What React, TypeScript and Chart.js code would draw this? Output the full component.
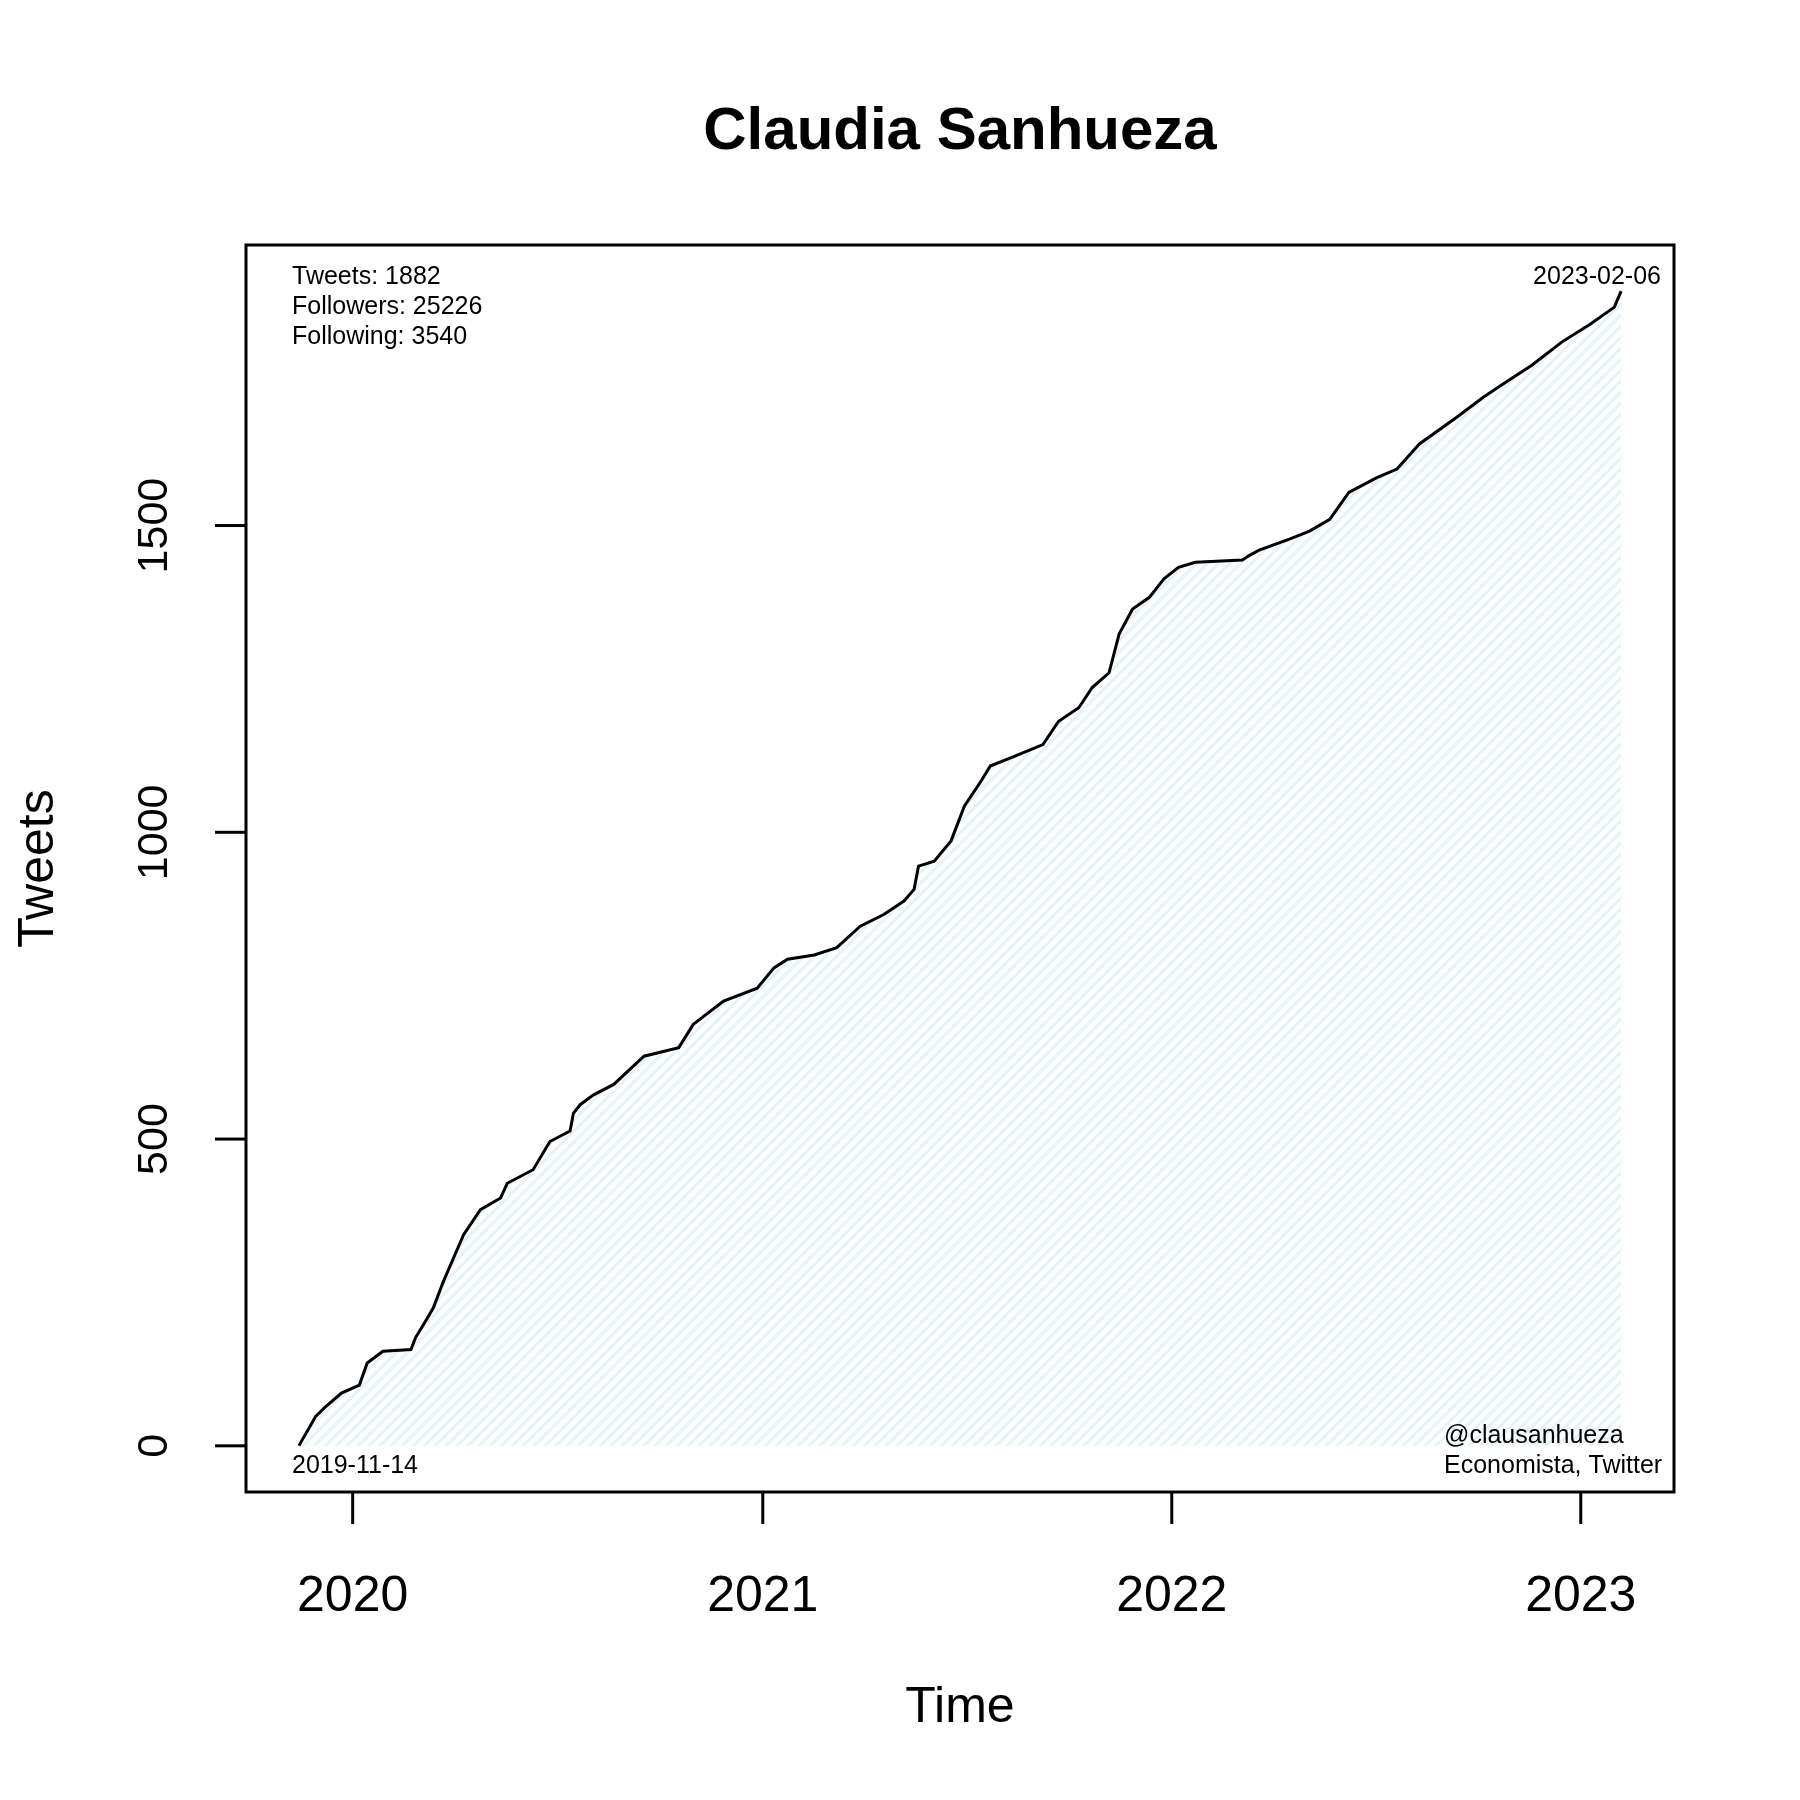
import React, { useEffect, useRef } from "react";
import { Chart, registerables } from "chart.js";

Chart.register(...registerables);

const TITLE = "Claudia Sanhueza";
const X_TITLE = "Time";
const Y_TITLE = "Tweets";

const dates = [
  "2019-11-14", "2019-11-29", "2019-12-08", "2019-12-22", "2020-01-07", "2020-01-14",
  "2020-01-28", "2020-02-22", "2020-02-26", "2020-03-04", "2020-03-13", "2020-03-22",
  "2020-04-09", "2020-04-24", "2020-05-12", "2020-05-18", "2020-06-10", "2020-06-25",
  "2020-07-13", "2020-07-16", "2020-07-22", "2020-08-03", "2020-08-21", "2020-09-17",
  "2020-10-18", "2020-10-31", "2020-11-27", "2020-12-27", "2021-01-11", "2021-01-23",
  "2021-02-16", "2021-03-08", "2021-03-29", "2021-04-19", "2021-05-07", "2021-05-16",
  "2021-05-20", "2021-06-03", "2021-06-18", "2021-06-30", "2021-07-15", "2021-07-23",
  "2021-08-14", "2021-09-08", "2021-09-22", "2021-10-10", "2021-10-22", "2021-11-06",
  "2021-11-15", "2021-11-27", "2021-12-12", "2021-12-25", "2022-01-07", "2022-01-22",
  "2022-03-05", "2022-03-11", "2022-03-20", "2022-04-16", "2022-05-04", "2022-05-22",
  "2022-06-08", "2022-07-03", "2022-07-21", "2022-08-10", "2022-09-12", "2022-10-06",
  "2022-10-24", "2022-11-18", "2022-12-15", "2023-01-10", "2023-01-31", "2023-02-06",
];

const tweets = [
  0, 48, 64, 86, 99, 135,
  154, 157, 176, 197, 225, 268,
  344, 385, 404, 428, 450, 496,
  513, 542, 556, 572, 589, 635,
  649, 687, 725, 746, 779, 793,
  800, 812, 847, 866, 888, 907,
  945, 953, 986, 1043, 1084, 1108,
  1124, 1143, 1181, 1203, 1236, 1260,
  1323, 1364, 1383, 1413, 1432, 1440,
  1444, 1451, 1460, 1478, 1491, 1510,
  1554, 1578, 1592, 1633, 1676, 1709,
  1731, 1761, 1799, 1829, 1856, 1882,
];

const xTickDates = ["2020-01-01", "2021-01-01", "2022-01-01", "2023-01-01"];
const xTickLabels = ["2020", "2021", "2022", "2023"];
const yTickValues = [0, 500, 1000, 1500];

const infoLines = ["Tweets: 1882", "Followers: 25226", "Following: 3540"];
const startLabel = "2019-11-14";
const endLabel = "2023-02-06";
const creditLines = ["@clausanhueza", "Economista, Twitter"];

const FONT = '"Liberation Sans", Arial, Helvetica, sans-serif';

function makePattern(ctx: CanvasRenderingContext2D) {
  const size = 11;
  const c = document.createElement("canvas");
  c.width = size;
  c.height = size;
  const p = c.getContext("2d")!;
  p.fillStyle = "#ffffff";
  p.fillRect(0, 0, size, size);
  p.strokeStyle = "#e4f2f9";
  p.lineWidth = 3;
  p.beginPath();
  p.moveTo(-size, size * 2);
  p.lineTo(size * 2, -size);
  p.moveTo(-size, size);
  p.lineTo(size, -size);
  p.moveTo(0, size * 2);
  p.lineTo(size * 2, 0);
  p.stroke();
  return ctx.createPattern(c, "repeat");
}

const decorPlugin = {
  id: "decor",
  afterDraw(chart: any) {
    const ctx: CanvasRenderingContext2D = chart.ctx;
    const area = chart.chartArea;
    const xs = chart.scales.x;
    const ys = chart.scales.y;
    ctx.save();
    ctx.fillStyle = "#000";
    ctx.strokeStyle = "#000";
    ctx.lineWidth = 3;
    ctx.lineCap = "butt";

    // box
    ctx.strokeRect(area.left, area.top, area.right - area.left, area.bottom - area.top);

    // x ticks
    ctx.font = `50px ${FONT}`;
    ctx.textAlign = "center";
    ctx.textBaseline = "alphabetic";
    xTickDates.forEach((d, i) => {
      const px = xs.getPixelForValue(Date.parse(d));
      ctx.beginPath();
      ctx.moveTo(px, area.bottom);
      ctx.lineTo(px, area.bottom + 32);
      ctx.stroke();
      ctx.fillText(xTickLabels[i], px, area.bottom + 119);
    });

    // y ticks
    ctx.font = `43px ${FONT}`;
    yTickValues.forEach((v) => {
      const py = ys.getPixelForValue(v);
      ctx.beginPath();
      ctx.moveTo(area.left - 31, py);
      ctx.lineTo(area.left, py);
      ctx.stroke();
      ctx.save();
      ctx.translate(167, py);
      ctx.rotate(-Math.PI / 2);
      ctx.textAlign = "center";
      ctx.fillText(String(v), 0, 0);
      ctx.restore();
    });

    const cx = (area.left + area.right) / 2;
    const cy = (area.top + area.bottom) / 2;

    // title
    ctx.font = `bold 60px ${FONT}`;
    ctx.textAlign = "center";
    ctx.fillText(TITLE, cx, 149);

    // axis titles
    ctx.font = `50px ${FONT}`;
    ctx.fillText(X_TITLE, cx, 1722);
    ctx.save();
    ctx.translate(53, cy);
    ctx.rotate(-Math.PI / 2);
    ctx.textAlign = "center";
    ctx.fillText(Y_TITLE, 0, 0);
    ctx.restore();

    // annotations
    ctx.font = `25px ${FONT}`;
    ctx.textAlign = "left";
    infoLines.forEach((t, i) => ctx.fillText(t, 292, 284 + i * 30));
    ctx.fillText(startLabel, 292, 1473);
    creditLines.forEach((t, i) => ctx.fillText(t, 1444, 1443 + i * 30));
    ctx.textAlign = "right";
    ctx.fillText(endLabel, 1661, 284);

    ctx.restore();
  },
};

export default function App() {
  const ref = useRef<HTMLCanvasElement | null>(null);

  useEffect(() => {
    const canvas = ref.current!;
    const ctx = canvas.getContext("2d")!;
    const pts = dates.map((d, i) => ({ x: Date.parse(d), y: tweets[i] }));
    const t0 = Date.parse(dates[0]);
    const t1 = Date.parse(dates[dates.length - 1]);
    const xPad = (t1 - t0) * 0.04;
    const yMax = Math.max(...tweets);
    const yPad = yMax * 0.04;

    const chart = new Chart(ctx, {
      type: "line",
      data: {
        datasets: [
          {
            data: pts,
            borderColor: "#000000",
            borderWidth: 3,
            pointRadius: 0,
            tension: 0,
            fill: "origin",
            backgroundColor: makePattern(ctx) as any,
          },
        ],
      },
      options: {
        animation: false,
        responsive: false,
        devicePixelRatio: 1,
        layout: { padding: { left: 246, right: 126, top: 245, bottom: 308 } },
        plugins: {
          legend: { display: false },
          title: { display: false },
          tooltip: { enabled: false },
        },
        scales: {
          x: { type: "linear", display: false, min: t0 - xPad, max: t1 + xPad },
          y: { type: "linear", display: false, min: -yPad, max: yMax + yPad },
        },
      },
      plugins: [decorPlugin],
    });
    return () => chart.destroy();
  }, []);

  return (
    <div style={{ position: "absolute", left: 0, top: 0, width: 1800, height: 1800, background: "#fff" }}>
      <canvas ref={ref} width={1800} height={1800} style={{ width: 1800, height: 1800, display: "block" }} />
    </div>
  );
}
